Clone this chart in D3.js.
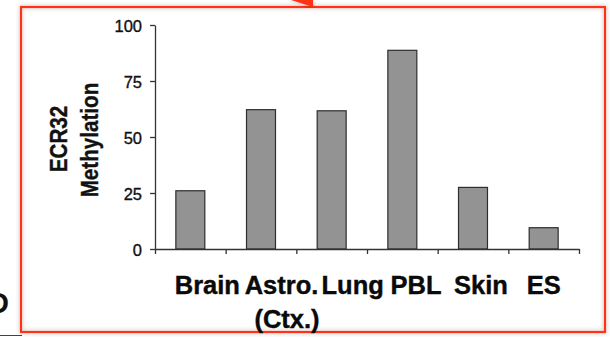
<!DOCTYPE html>
<html>
<head>
<meta charset="utf-8">
<script src="https://cdn.jsdelivr.net/npm/d3@7"></script>
<style>
  html, body { margin: 0; padding: 0; background: #fff; }
  svg { display: block; }
  text { font-family: "Liberation Sans", Arial, Helvetica, sans-serif; }
</style>
</head>
<body>
<svg id="chart" width="610" height="337"></svg>
<script>
// ECR32 methylation by tissue
const categories = ["Brain", "Astro.", "Lung", "PBL", "Skin", "ES"];
const methylation = [26, 62.2, 61.7, 88.7, 27.5, 9.5];
const yTicks = [0, 25, 50, 75, 100];
const yTitle = ["ECR32", "Methylation"];
const subLabel = "(Ctx.)";

const svg = d3.select("#chart");

// soft shadow used for the red frame and the arrow head
const defs = svg.append("defs");
const shadow = defs.append("filter").attr("id", "soft")
  .attr("x", "-10%").attr("y", "-10%").attr("width", "120%").attr("height", "120%");
shadow.append("feDropShadow")
  .attr("dx", 0).attr("dy", 0).attr("stdDeviation", 2)
  .attr("flood-color", "#000").attr("flood-opacity", 0.3);

// fragments of the neighbouring panel: letter and rule at lower left
svg.append("text")
  .attr("x", -12).attr("y", 313)
  .attr("font-size", 29).attr("font-weight", "bold").attr("fill", "#111")
  .text("D");
svg.append("line")
  .attr("x1", 0).attr("x2", 22).attr("y1", 335.5).attr("y2", 335.5)
  .attr("stroke", "#444").attr("stroke-width", 1);

// scales
const plotLeft = 155, plotRight = 579, plotTop = 25, plotBottom = 249;
const x = d3.scaleBand()
  .domain(categories)
  .range([plotLeft, plotRight])
  .paddingInner(0.59)
  .paddingOuter(0.295);
const y = d3.scaleLinear().domain([0, 100]).range([plotBottom, plotTop]);
const bounds = d3.scaleLinear().domain([0, categories.length]).range([plotLeft, plotRight]);

// bars
svg.append("g").selectAll("rect")
  .data(categories.map((c, i) => ({ c, v: methylation[i] })))
  .join("rect")
  .attr("x", d => x(d.c))
  .attr("y", d => y(d.v))
  .attr("width", x.bandwidth())
  .attr("height", d => y(0) - y(d.v))
  .attr("fill", "#939393")
  .attr("stroke", "#2e2e2e")
  .attr("stroke-width", 1.2);

// y axis
const yAxis = svg.append("g")
  .attr("transform", `translate(${plotLeft},0)`)
  .call(d3.axisLeft(y).tickValues(yTicks).tickSize(5).tickSizeOuter(0).tickPadding(8));
yAxis.select(".domain").attr("stroke", "#333").attr("stroke-width", 1.3);
yAxis.selectAll(".tick line").attr("stroke", "#333").attr("stroke-width", 1.3);
yAxis.selectAll(".tick text")
  .attr("font-size", 16.5).attr("fill", "#111")
  .attr("stroke", "#111").attr("stroke-width", 0.35)
  .attr("font-family", "Liberation Sans, Arial, sans-serif")
  .attr("dy", "0.42em");

// x axis: ticks at category boundaries
const xAxis = svg.append("g")
  .attr("transform", `translate(0,${plotBottom})`)
  .call(d3.axisBottom(bounds).tickValues(d3.range(categories.length + 1))
    .tickSize(5).tickSizeOuter(0).tickFormat(""));
xAxis.select(".domain").attr("stroke", "#333").attr("stroke-width", 1.3);
xAxis.selectAll(".tick line").attr("stroke", "#333").attr("stroke-width", 1.3);

// y title, two rotated lines
const titleFont = 24;
[[66.7, 139], [98.2, 140]].forEach(([tx, ty], i) => {
  svg.append("text")
    .attr("transform", `translate(${tx},${ty}) rotate(-90) scale(0.86,1)`)
    .attr("text-anchor", "middle")
    .attr("font-size", titleFont).attr("font-weight", "bold").attr("fill", "#111")
    .attr("stroke", "#111").attr("stroke-width", 0.4)
    .text(yTitle[i]);
});

// red frame
svg.append("rect")
  .attr("x", 21).attr("y", 7).attr("width", 584).attr("height", 325)
  .attr("fill", "none").attr("stroke", "#ff3214").attr("stroke-width", 2.2)
  .attr("filter", "url(#soft)");

// arrow head touching the frame
svg.append("path")
  .attr("d", "M288,-1 L313,-1 L313,7 Z")
  .attr("fill", "#ff3214")
  .attr("filter", "url(#soft)");

// category labels, set as a typed line under the axis
const labelNudge = [17, 20.5, 21, 13.7, 8, 0];
const labels = svg.append("g")
  .attr("font-size", 25.5).attr("font-weight", "bold").attr("fill", "#0a0a0a")
  .attr("stroke", "#0a0a0a").attr("stroke-width", 0.4)
  .attr("text-anchor", "middle");
labels.selectAll("text.cat")
  .data(categories)
  .join("text")
  .attr("class", "cat")
  .attr("x", (d, i) => x(d) + x.bandwidth() / 2 + labelNudge[i])
  .attr("y", 294)
  .text(d => d);
labels.append("text")
  .attr("x", x("Astro.") + x.bandwidth() / 2 + labelNudge[1] + 5.5)
  .attr("y", 327.5)
  .text(subLabel);
</script>
</body>
</html>
